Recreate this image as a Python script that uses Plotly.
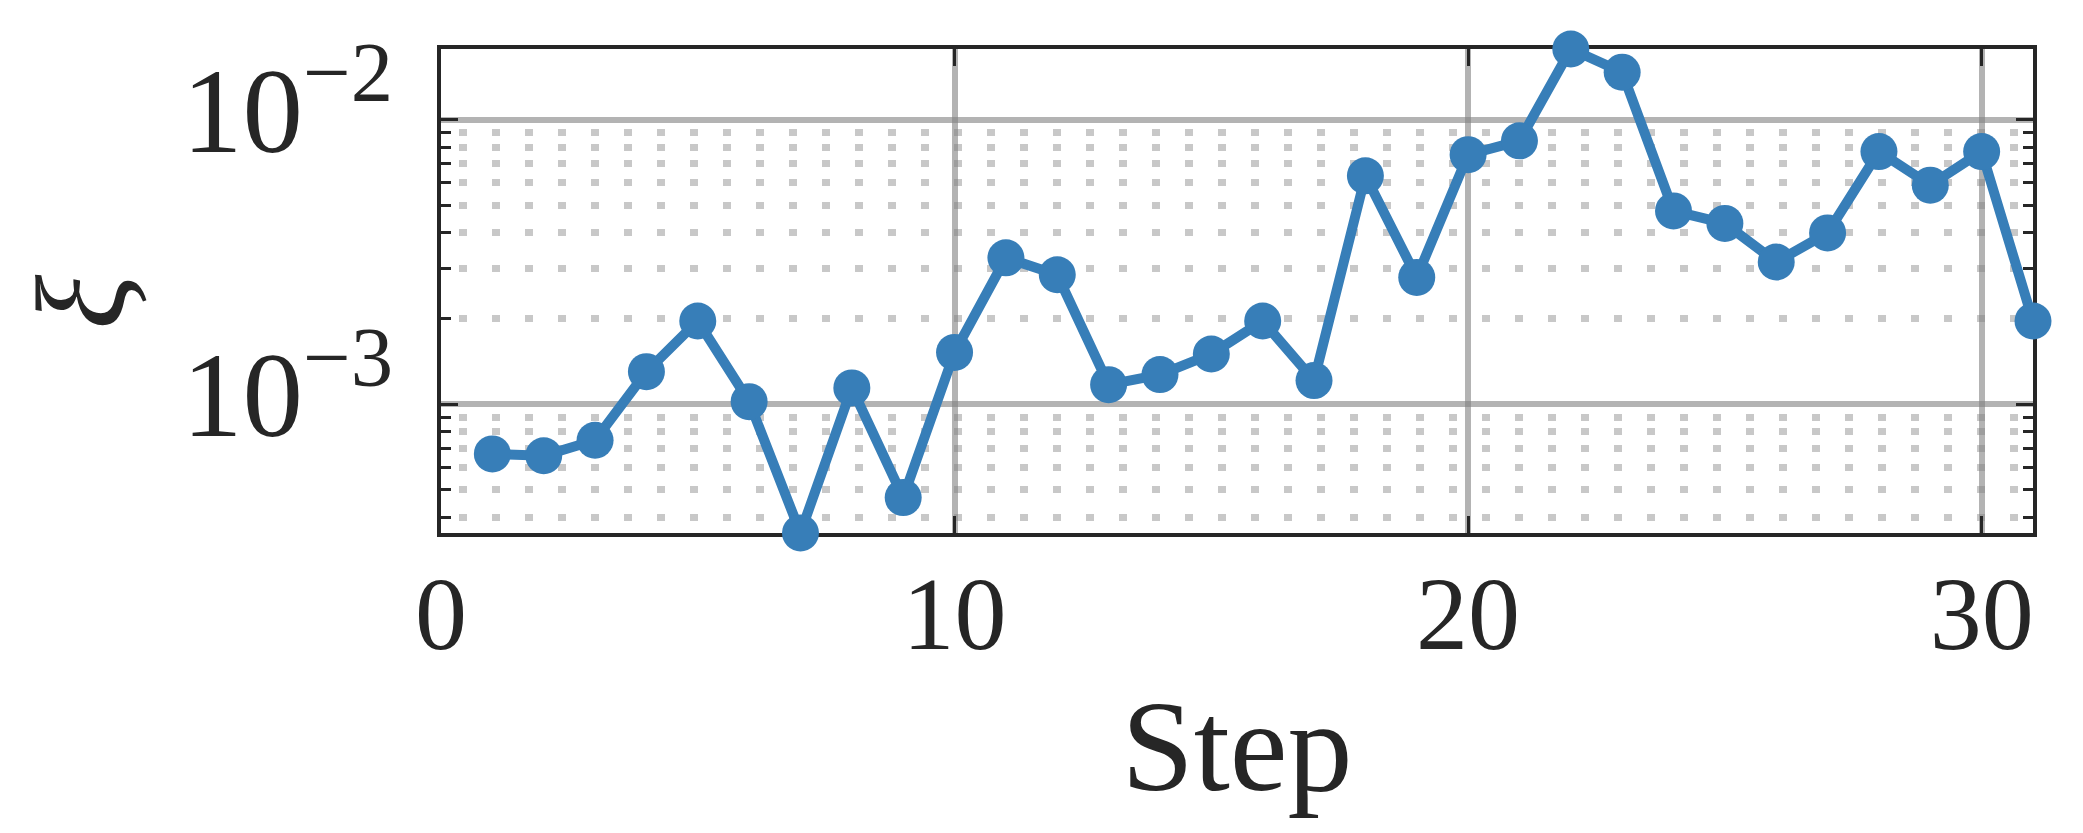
import numpy as np
import plotly.graph_objects as go

# data
steps = list(range(1, 32))
xi_values = [6.68e-4, 6.58e-4, 7.46e-4, 1.30e-3, 1.96e-3, 1.02e-3, 3.52e-4, 1.14e-3,
             4.69e-4, 1.52e-3, 3.27e-3, 2.85e-3, 1.17e-3, 1.27e-3, 1.50e-3, 1.96e-3,
             1.21e-3, 6.35e-3, 2.79e-3, 7.54e-3, 8.43e-3, 1.774e-2, 1.47e-2, 4.78e-3,
             4.32e-3, 3.16e-3, 4.00e-3, 7.73e-3, 5.89e-3, 7.73e-3, 1.96e-3]

x_ticks = [0, 10, 20, 30]
y_ticks = [1e-3, 1e-2]
y_tick_labels = ["10<sup>\u22123</sup>", "10<sup>\u22122</sup>"]
y_minor_ticks = [k * 10.0 ** e for e in (-4, -3) for k in range(2, 10)]

BLUE = "#377eb8"
INK = "#262626"
GRID = "rgba(128,128,128,0.6)"
FONT = "Liberation Serif"

fig = go.Figure()

fig.add_trace(
    go.Scatter(
        x=steps, y=xi_values, mode="lines+markers",
        line=dict(color=BLUE, width=10),
        marker=dict(color=BLUE, size=37),
        cliponaxis=False, showlegend=False))

fig.update_xaxes(
    range=[0, 31], tickmode="array", tickvals=x_ticks,
    ticks="inside", ticklen=17, tickwidth=3, tickcolor=INK,
    showline=True, linewidth=3.5, linecolor=INK, mirror="ticks",
    showgrid=True, gridcolor=GRID, gridwidth=6, zeroline=False,
    tickfont=dict(family=FONT, size=104, color=INK),
    ticklabelstandoff=-13, automargin=False,
    title=dict(text="Step", font=dict(family=FONT, size=130, color=INK), standoff=30),
    layer="below traces")

fig.update_yaxes(
    type="log",
    range=[np.log10(min(xi_values)), np.log10(max(xi_values))],
    tickmode="array", tickvals=y_ticks, ticktext=y_tick_labels,
    ticks="inside", ticklen=17, tickwidth=3, tickcolor=INK,
    showline=True, linewidth=3.5, linecolor=INK, mirror="ticks",
    showgrid=True, gridcolor=GRID, gridwidth=6, zeroline=False,
    tickfont=dict(family=FONT, size=121, color=INK),
    ticklabelstandoff=20, ticklabelshift=-10, automargin=False,
    minor=dict(tickmode="array", tickvals=y_minor_ticks, ticks="inside", ticklen=10,
               tickwidth=3, tickcolor=INK, showgrid=True, gridcolor="#c8c8c8",
               gridwidth=7, griddash="0px,18px,8px,7px"),
    layer="below traces")

# y label placed as a rotated annotation so it can sit where the reference has it
fig.add_annotation(
    text="<i>\u03be</i>", xref="paper", yref="paper", x=-0.2262, y=0.478,
    xanchor="center", yanchor="middle", textangle=-90, showarrow=False,
    font=dict(family=FONT, size=128, color=INK))

# the page body adds an 8px offset, so margins are shifted to keep the plot box in place
fig.update_layout(
    width=2083, height=833,
    margin=dict(l=433, r=58, t=41, b=308),
    paper_bgcolor="white", plot_bgcolor="white",
    showlegend=False)

fig.write_html("out.html")
